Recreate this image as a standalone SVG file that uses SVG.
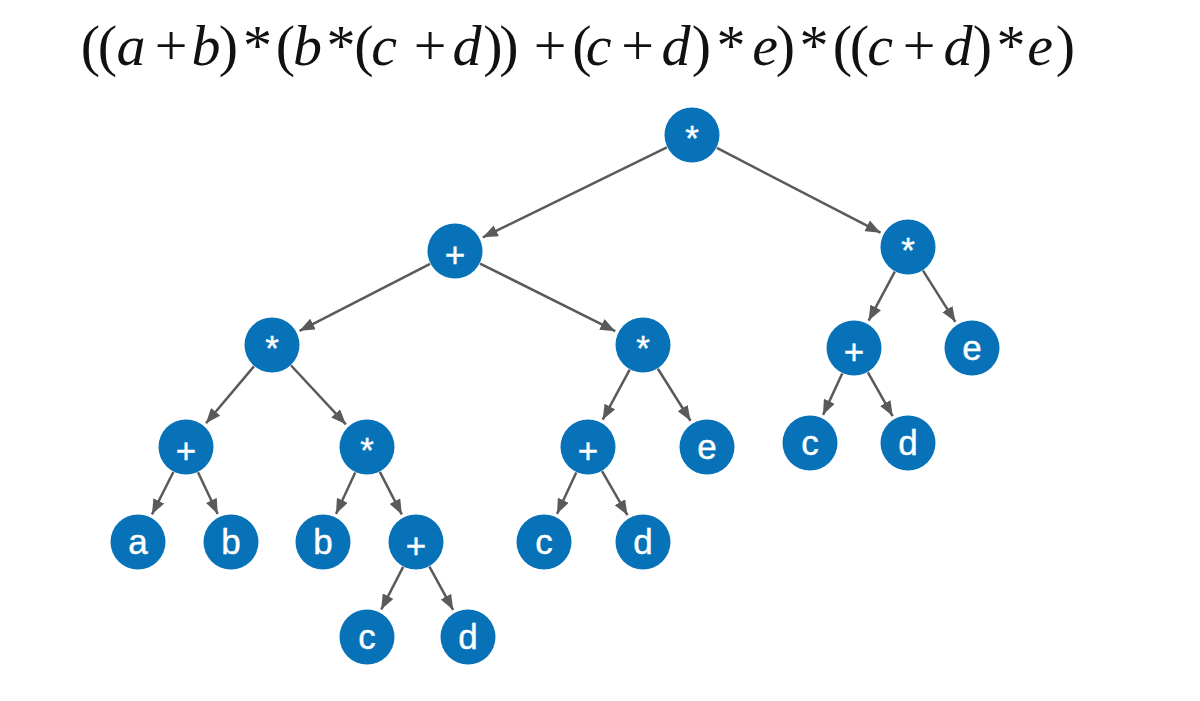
<svg xmlns="http://www.w3.org/2000/svg" width="1200" height="701" viewBox="0 0 1200 701">
<style>
.t{font-family:"Liberation Serif","Times New Roman",serif;font-size:58px;fill:#111;text-anchor:middle}
.i{font-style:italic}
.n circle{fill:#0872b8}
.n text{font-family:"Liberation Sans",Arial,sans-serif;font-size:35px;fill:#fff;stroke:#fff;stroke-width:0.4px;text-anchor:middle}
.e line{stroke:#5a5a5a;stroke-width:2.5;marker-end:url(#ah)}
</style>
<defs>
<marker id="ah" viewBox="0 0 15 12" refX="15" refY="6" markerWidth="15" markerHeight="12" markerUnits="userSpaceOnUse" orient="auto">
<path d="M0,0 L15,6 L0,12 z" fill="#5a5a5a"/>
</marker>
</defs>
<rect width="1200" height="701" fill="#fff"/>
<g id="title">
<text class="t" y="65"><tspan x="90.5">(</tspan><tspan x="107.5">(</tspan><tspan class="i" x="131">a</tspan><tspan x="171">+</tspan><tspan class="i" x="206">b</tspan><tspan x="228.5">)</tspan><tspan x="257.5">*</tspan><tspan x="285.5">(</tspan><tspan class="i" x="307.5">b</tspan><tspan x="341">*</tspan><tspan x="364">(</tspan><tspan class="i" x="384">c</tspan><tspan x="430">+</tspan><tspan class="i" x="467">d</tspan><tspan x="493">)</tspan><tspan x="509">)</tspan><tspan x="550">+</tspan><tspan x="582">(</tspan><tspan class="i" x="598.5">c</tspan><tspan x="637.5">+</tspan><tspan class="i" x="676">d</tspan><tspan x="701.5">)</tspan><tspan x="731">*</tspan><tspan class="i" x="765">e</tspan><tspan x="785.5">)</tspan><tspan x="814">*</tspan><tspan x="842.5">(</tspan><tspan x="859.5">(</tspan><tspan class="i" x="880">c</tspan><tspan x="919">+</tspan><tspan class="i" x="958">d</tspan><tspan x="982.5">)</tspan><tspan x="1011">*</tspan><tspan class="i" x="1040">e</tspan><tspan x="1065.5">)</tspan></text>
</g>
<g id="connectors" class="e">
<line x1="666.85" y1="147.31" x2="482.84" y2="237.37"/>
<line x1="716.86" y1="147.89" x2="880.48" y2="232.73"/>
<line x1="430.09" y1="263.79" x2="299.57" y2="330.84"/>
<line x1="480.04" y1="263.52" x2="615.27" y2="331.14"/>
<line x1="894.80" y1="271.69" x2="868.62" y2="320.66"/>
<line x1="922.99" y1="270.65" x2="955.41" y2="321.81"/>
<line x1="253.95" y1="366.41" x2="205.98" y2="423.30"/>
<line x1="291.08" y1="365.49" x2="345.87" y2="424.31"/>
<line x1="629.71" y1="369.65" x2="602.71" y2="419.71"/>
<line x1="657.88" y1="368.72" x2="690.52" y2="420.74"/>
<line x1="842.23" y1="373.41" x2="823.03" y2="414.87"/>
<line x1="867.84" y1="372.34" x2="892.68" y2="416.05"/>
<line x1="173.37" y1="471.99" x2="151.98" y2="514.33"/>
<line x1="197.99" y1="472.30" x2="217.73" y2="513.99"/>
<line x1="355.23" y1="472.41" x2="336.03" y2="513.87"/>
<line x1="379.84" y1="471.89" x2="401.79" y2="514.45"/>
<line x1="576.23" y1="472.41" x2="557.03" y2="513.87"/>
<line x1="602.03" y1="471.23" x2="627.47" y2="515.17"/>
<line x1="403.16" y1="566.89" x2="381.21" y2="609.45"/>
<line x1="429.44" y1="566.56" x2="453.12" y2="609.81"/>
</g>
<g id="n1" class="n"><circle cx="692" cy="135" r="27.5"/><text x="692" y="150">*</text></g>
<g id="n2" class="n"><circle cx="455" cy="251" r="27.5"/><text x="455" y="267">+</text></g>
<g id="n3" class="n"><circle cx="908" cy="247" r="27.5"/><text x="908" y="262">*</text></g>
<g id="n4" class="n"><circle cx="272" cy="345" r="27.5"/><text x="272" y="360">*</text></g>
<g id="n5" class="n"><circle cx="643" cy="345" r="27.5"/><text x="643" y="360">*</text></g>
<g id="n6" class="n"><circle cx="854" cy="348" r="27.5"/><text x="854" y="364">+</text></g>
<g id="n7" class="n"><circle cx="972" cy="348" r="27.5"/><text x="972" y="360">e</text></g>
<g id="n8" class="n"><circle cx="186" cy="447" r="27.5"/><text x="186" y="463">+</text></g>
<g id="n9" class="n"><circle cx="367" cy="447" r="27.5"/><text x="367" y="462">*</text></g>
<g id="n10" class="n"><circle cx="588" cy="447" r="27.5"/><text x="588" y="463">+</text></g>
<g id="n11" class="n"><circle cx="707" cy="447" r="27.5"/><text x="707" y="459">e</text></g>
<g id="n12" class="n"><circle cx="810" cy="443" r="27.5"/><text x="810" y="455">c</text></g>
<g id="n13" class="n"><circle cx="908" cy="443" r="27.5"/><text x="908" y="455">d</text></g>
<g id="n14" class="n"><circle cx="138" cy="542" r="27.5"/><text x="138" y="554">a</text></g>
<g id="n15" class="n"><circle cx="231" cy="542" r="27.5"/><text x="231" y="554">b</text></g>
<g id="n16" class="n"><circle cx="323" cy="542" r="27.5"/><text x="323" y="554">b</text></g>
<g id="n17" class="n"><circle cx="416" cy="542" r="27.5"/><text x="416" y="558">+</text></g>
<g id="n18" class="n"><circle cx="544" cy="542" r="27.5"/><text x="544" y="554">c</text></g>
<g id="n19" class="n"><circle cx="643" cy="542" r="27.5"/><text x="643" y="554">d</text></g>
<g id="n20" class="n"><circle cx="367" cy="637" r="27.5"/><text x="367" y="649">c</text></g>
<g id="n21" class="n"><circle cx="468" cy="637" r="27.5"/><text x="468" y="649">d</text></g>
</svg>
